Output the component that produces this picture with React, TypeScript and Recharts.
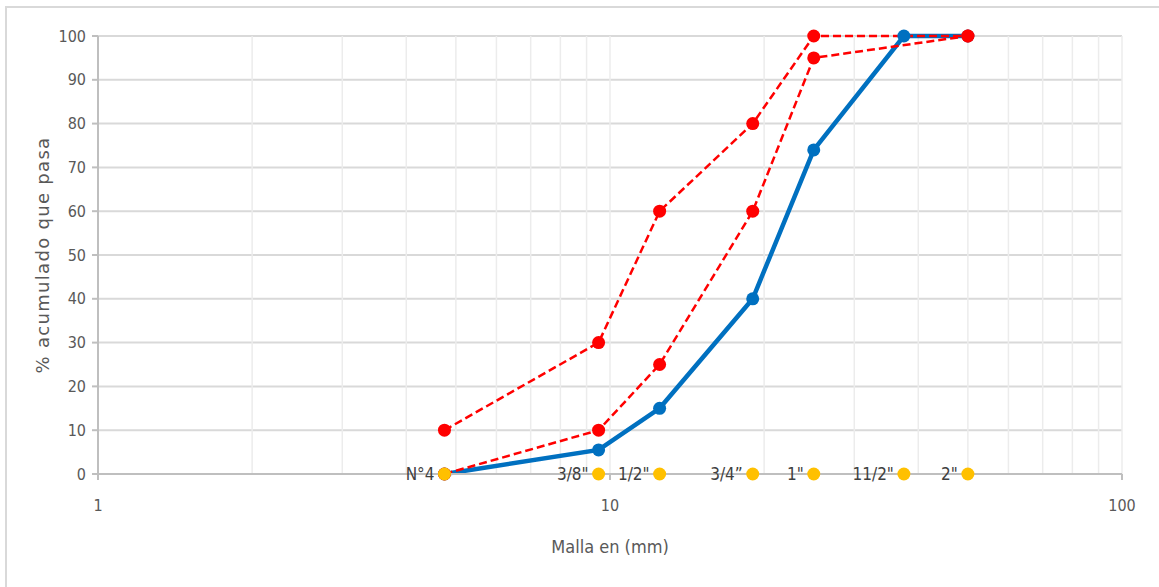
import {
  Label,
  LabelList,
  Line,
  LineChart,
  ReferenceLine,
  XAxis,
  YAxis,
} from "recharts";

// abertura de tamiz (mm)
const sizes = [4.75, 9.5, 12.5, 19, 25, 37.5, 50];
const sieveNames = ["N°4", '3/8"', '1/2"', "3/4”", '1"', '11/2"', '2"'];
const muestra = [0, 5.5, 15, 40, 74, 100, 100];

const limitSizes = [4.75, 9.5, 12.5, 19, 25, 50];
const limiteSuperior = [10, 30, 60, 80, 100, 100];
const limiteInferior = [0, 10, 25, 60, 95, 100];

const yTicks = [0, 10, 20, 30, 40, 50, 60, 70, 80, 90, 100];
const xTicks = [1, 10, 100];
const minorGrid = [2, 3, 4, 5, 6, 7, 8, 9, 10, 20, 30, 40, 50, 60, 70, 80, 90, 100];

const muestraData = sizes.map((x, i) => ({ x, y: muestra[i] }));
const superiorData = limitSizes.map((x, i) => ({ x, y: limiteSuperior[i] }));
const inferiorData = limitSizes.map((x, i) => ({ x, y: limiteInferior[i] }));
const tamizData = sizes.map((x, i) => ({ x, y: 0, name: sieveNames[i] }));

const narrow = "'DejaVu Sans Condensed', 'DejaVu Sans', sans-serif";
const tickStyle = { fontFamily: narrow, fontStretch: "condensed", fontSize: 16, fill: "#595959" };

const YTitle = (props: any) => {
  const vb = props.viewBox || { x: 0, y: 36, width: 98, height: 438 };
  const cy = vb.y + vb.height / 2;
  return (
    <text
      x={49}
      y={cy}
      transform={`rotate(-90, 49, ${cy})`}
      textAnchor="middle"
      fill="#595959"
      style={{ fontFamily: "'DejaVu Sans', sans-serif", fontSize: 18, letterSpacing: 1.3 }}
    >
      % acumulado que pasa
    </text>
  );
};

export default function App() {
  return (
    <div style={{ position: "absolute", left: 0, top: 0, width: 1159, height: 587, background: "#fff", overflow: "hidden" }}>
      <div
        style={{
          position: "absolute",
          left: 5,
          top: 6,
          width: 1200,
          height: 600,
          borderLeft: "2px solid #d9d9d9",
          borderTop: "2px solid #d9d9d9",
        }}
      />
      <div style={{ position: "absolute", left: 0, top: 0 }}>
        <LineChart width={1159} height={587} margin={{ top: 36, right: 37, bottom: 0, left: 0 }}>
          {yTicks.slice(1).map((v) => (
            <ReferenceLine key={"h" + v} y={v} stroke="#d9d9d9" strokeWidth={2} />
          ))}
          {minorGrid.map((v) => (
            <ReferenceLine key={"v" + v} x={v} stroke="#ececec" strokeWidth={1.5} />
          ))}
          <XAxis
            dataKey="x"
            type="number"
            scale="log"
            domain={[1, 100]}
            ticks={xTicks}
            allowDataOverflow
            height={113}
            stroke="#bfbfbf"
            strokeWidth={2}
            tickSize={6}
            tickMargin={20}
            tick={tickStyle}
          >
            <Label
              value="Malla en (mm)"
              position="insideBottom"
              offset={34}
              style={{ fontFamily: narrow, fontStretch: "condensed", fontSize: 18, fill: "#595959" }}
            />
          </XAxis>
          <YAxis
            dataKey="y"
            type="number"
            domain={[0, 100]}
            ticks={yTicks}
            width={98}
            stroke="#bfbfbf"
            strokeWidth={2}
            tickSize={6}
            tickMargin={6}
            tick={tickStyle}
          >
            <Label content={YTitle} />
          </YAxis>
          <Line
            data={muestraData}
            dataKey="y"
            stroke="#0070c0"
            strokeWidth={4.5}
            dot={{ r: 6.5, fill: "#0070c0", stroke: "#0070c0", strokeWidth: 0 }}
            isAnimationActive={false}
          />
          <Line
            data={inferiorData}
            dataKey="y"
            stroke="#ff0000"
            strokeWidth={2.5}
            strokeDasharray="8 4"
            dot={{ r: 6.5, fill: "#ff0000", stroke: "#ff0000", strokeWidth: 0 }}
            isAnimationActive={false}
          />
          <Line
            data={superiorData}
            dataKey="y"
            stroke="#ff0000"
            strokeWidth={2.5}
            strokeDasharray="8 4"
            dot={{ r: 6.5, fill: "#ff0000", stroke: "#ff0000", strokeWidth: 0 }}
            isAnimationActive={false}
          />
          <Line
            data={tamizData}
            dataKey="y"
            stroke="none"
            dot={{ r: 6.5, fill: "#ffc000", stroke: "#ffc000", strokeWidth: 0 }}
            isAnimationActive={false}
          >
            <LabelList
              dataKey="name"
              position="left"
              offset={10}
              style={{ fontFamily: narrow, fontStretch: "condensed", fontSize: 17, fill: "#404040" }}
            />
          </Line>
        </LineChart>
      </div>
    </div>
  );
}
